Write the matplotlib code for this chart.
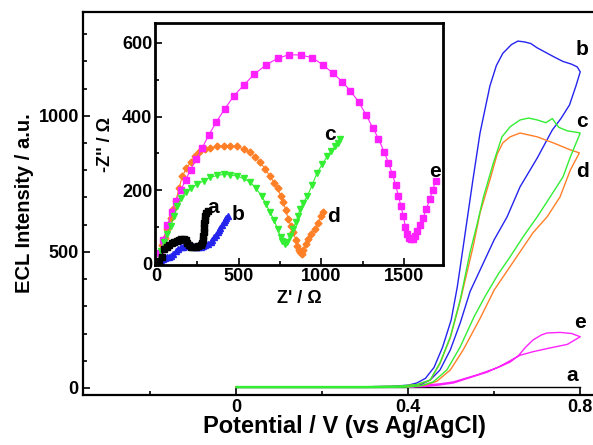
import matplotlib
matplotlib.use("Agg")
import matplotlib.pyplot as plt
from matplotlib.ticker import MultipleLocator

plt.rcParams["font.family"] = ["Liberation Sans", "DejaVu Sans"]
plt.rcParams["font.weight"] = "bold"

# ECL vs potential, main plot (two branches per curve: up and down scan)
pot_b_up = [0.00, 0.20, 0.30, 0.36, 0.40, 0.42, 0.44, 0.46, 0.48, 0.50, 0.514, 0.528, 0.55, 0.567,
            0.59, 0.605, 0.62, 0.64, 0.655, 0.67, 0.685, 0.70, 0.72, 0.74, 0.76, 0.78, 0.793, 0.80]
ecl_b_up = [3, 3, 4, 6, 10, 18, 35, 75, 150, 250, 370, 520, 760, 937,
            1110, 1185, 1230, 1262, 1275, 1272, 1266, 1250, 1233, 1216, 1200, 1190, 1180, 1162]
pot_b_dn = [0.80, 0.79, 0.775, 0.755, 0.735, 0.70, 0.66, 0.63, 0.60, 0.575, 0.544, 0.521, 0.498,
            0.474, 0.451, 0.428, 0.40, 0.30, 0.00]
ecl_b_dn = [1162, 1110, 1040, 990, 948, 845, 739, 629, 545, 460, 355, 239, 140,
            66, 29, 11, 5, 3, 3]

pot_c_up = [0.00, 0.20, 0.30, 0.38, 0.42, 0.451, 0.474, 0.498, 0.521, 0.544, 0.56, 0.575, 0.598,
            0.618, 0.637, 0.66, 0.68, 0.70, 0.72, 0.735, 0.75, 0.77, 0.79, 0.80]
ecl_c_up = [5, 5, 5, 7, 12, 29, 92, 188, 324, 500, 600, 702, 827,
            923, 960, 985, 992, 985, 975, 990, 958, 945, 940, 937]
pot_c_dn = [0.80, 0.777, 0.76, 0.73, 0.70, 0.667, 0.637, 0.61, 0.58, 0.553, 0.521, 0.49, 0.458,
            0.43, 0.40, 0.30, 0.00]
ecl_c_dn = [937, 849, 776, 702, 629, 555, 482, 420, 340, 261, 151, 66, 22,
            8, 3, 1, 1]

pot_d_up = [0.00, 0.20, 0.30, 0.38, 0.42, 0.451, 0.474, 0.498, 0.521, 0.551, 0.567, 0.59, 0.607,
            0.62, 0.637, 0.66, 0.68, 0.70, 0.737, 0.777, 0.798]
ecl_d_up = [3, 3, 4, 6, 12, 28, 90, 185, 320, 520, 643, 765, 860,
            901, 923, 937, 930, 923, 901, 875, 864]
pot_d_dn = [0.798, 0.777, 0.753, 0.723, 0.69, 0.66, 0.63, 0.60, 0.567, 0.528, 0.498, 0.467, 0.44,
            0.40, 0.30, 0.00]
ecl_d_dn = [864, 801, 702, 629, 570, 500, 430, 360, 255, 140, 66, 25, 10,
            5, 3, 3]

pot_e_up = [0.40, 0.444, 0.474, 0.505, 0.56, 0.607, 0.637, 0.656, 0.672, 0.69, 0.71, 0.723,
            0.753, 0.78, 0.80]
ecl_e_up = [3, 11, 15, 22, 48, 74, 95, 118, 148, 176, 195, 202, 204, 200, 188]
pot_e_dn = [0.80, 0.77, 0.73, 0.69, 0.66, 0.637, 0.614, 0.584, 0.544, 0.505, 0.474, 0.44, 0.40]
ecl_e_dn = [188, 160, 147, 133, 120, 100, 80, 58, 38, 18, 11, 5, 3]

pot_a = [0.00, 0.40, 0.80]
ecl_a = [3, 3, 3]

pot_ticks = [0, 0.4, 0.8]
pot_tick_labels = ["0", "0.4", "0.8"]
ecl_ticks = [0, 500, 1000]

# Nyquist plot, inset
z_re_a = [0, 10, 20, 35, 48, 65, 80, 95, 108, 125, 140, 155, 169, 180, 190, 200, 211, 225, 240,
          255, 271, 278, 282, 286, 289, 291, 292, 296, 300, 306, 313]
z_im_a = [0, 4, 8, 20, 40, 46, 52, 57, 60, 63, 66, 68, 68, 64, 58, 52, 46, 45, 46,
          48, 50, 56, 65, 76, 86, 98, 110, 120, 130, 137, 143]

z_re_b = [0, 10, 20, 32, 45, 58, 70, 80, 90, 105, 120, 135, 150, 165, 180, 195, 211, 225, 240,
          255, 271, 285, 300, 315, 331, 340, 350, 362, 373, 382, 390, 400, 410, 418, 425, 433]
z_im_b = [0, 3, 5, 8, 12, 15, 18, 20, 22, 28, 35, 41, 46, 47, 48, 49, 49, 48, 47,
          46, 46, 48, 50, 54, 60, 65, 72, 79, 86, 92, 98, 105, 113, 119, 124, 130]

z_re_c = [10, 30, 50, 70, 90, 110, 130, 155, 180, 215, 250, 290, 330, 370, 410, 450, 490, 530,
          570, 605, 640, 665, 690, 715, 735, 755, 765, 780, 795, 810, 830, 845, 860, 870, 890,
          915, 945, 975, 1005, 1035, 1060, 1085, 1100, 1115]
z_im_c = [5, 35, 60, 82, 103, 130, 157, 178, 195, 207, 216, 226, 235, 240, 243, 242, 238, 232,
          222, 205, 184, 163, 140, 118, 95, 72, 62, 54, 60, 76, 95, 113, 130, 149, 165,
          184, 215, 248, 270, 292, 306, 319, 328, 338]

z_re_d = [10, 25, 40, 55, 70, 90, 105, 120, 140, 160, 185, 210, 235, 260, 295, 330, 370, 410,
          450, 490, 530, 570, 600, 630, 660, 690, 715, 735, 755, 770, 785, 800, 815, 830, 845,
          855, 865, 872, 880, 890, 905, 920, 940, 960, 980, 1000, 1010]
z_im_d = [5, 28, 50, 70, 95, 125, 150, 170, 205, 238, 260, 276, 292, 303, 311, 316, 319, 320,
          320, 319, 312, 303, 290, 276, 258, 238, 220, 205, 185, 168, 145, 122, 104, 86, 66,
          49, 38, 32, 28, 38, 55, 68, 82, 95, 112, 130, 140]

z_re_e = [10, 25, 45, 70, 95, 120, 150, 180, 210, 245, 280, 320, 365, 415, 470, 530, 595, 665,
          735, 805, 875, 945, 1010, 1070, 1125, 1175, 1225, 1270, 1310, 1345, 1378, 1405, 1428,
          1448, 1465, 1480, 1495, 1508, 1520, 1530, 1540, 1552, 1565, 1580, 1597, 1615, 1635,
          1655, 1672, 1690]
z_im_e = [5, 30, 65, 105, 140, 170, 200, 228, 256, 285, 315, 350, 385, 420, 455, 485, 515, 540,
          558, 568, 567, 560, 540, 518, 495, 470, 440, 405, 370, 340, 305, 275, 245,
          215, 185, 158, 130, 100, 80, 70, 67, 68, 75, 88, 105, 125, 150,
          175, 200, 225]

z_re_ticks = [0, 500, 1000, 1500]
z_im_ticks = [0, 200, 400, 600]

c_blue = "#2424ee"
c_green = "#33ee33"
c_orange = "#ff7f27"
c_mag = "#ff22ff"

fig = plt.figure(figsize=(5.93, 4.45), dpi=100)

ax = fig.add_axes([0.14, 0.1124, 0.882, 0.8607])
ax.plot(pot_a, ecl_a, color="black", lw=1.0)
ax.plot(pot_e_up + pot_e_dn, ecl_e_up + ecl_e_dn, color=c_mag, lw=1.0)
ax.plot(pot_b_up + pot_b_dn, ecl_b_up + ecl_b_dn, color=c_blue, lw=1.0)
ax.plot(pot_d_up + pot_d_dn, ecl_d_up + ecl_d_dn, color=c_orange, lw=1.0)
ax.plot(pot_c_up + pot_c_dn, ecl_c_up + ecl_c_dn, color=c_green, lw=1.0)

ax.set_xlim(-0.356, 0.86)
ax.set_ylim(-26, 1382)
ax.set_xticks(pot_ticks, pot_tick_labels, fontweight="bold", fontsize=13)
ax.xaxis.set_minor_locator(MultipleLocator(0.2))
ax.set_yticks(ecl_ticks, [str(v) for v in ecl_ticks], fontweight="bold", fontsize=13)
ax.yaxis.set_minor_locator(MultipleLocator(100))
ax.tick_params(which="both", direction="in", width=1.2, pad=3)
ax.tick_params(which="major", length=5)
ax.tick_params(which="minor", length=3)
for s in ax.spines.values():
    s.set_linewidth(1.6)
ax.set_xlabel("Potential / V (vs Ag/AgCl)", fontsize=17, fontweight="bold", labelpad=-1)
ax.set_ylabel("ECL Intensity / a.u.", fontsize=14.5, fontweight="bold", labelpad=3)

for txt, x, y in [("b", 0.805, 1243), ("c", 0.805, 978), ("d", 0.805, 795),
                  ("e", 0.80, 239), ("a", 0.781, 45)]:
    ax.text(x, y, txt, fontsize=15, fontweight="bold", ha="center", va="center")

ins = fig.add_axes([0.2614, 0.4045, 0.4857, 0.5438])
ms = 4
ins.plot(z_re_d, z_im_d, color=c_orange, lw=0.8, marker="D", ms=ms - 0.5)
ins.plot(z_re_e, z_im_e, color=c_mag, lw=0.8, marker="s", ms=ms)
ins.plot(z_re_c, z_im_c, color=c_green, lw=0.8, marker="v", ms=ms + 0.5)
ins.plot(z_re_b, z_im_b, color=c_blue, lw=0.8, marker="^", ms=ms + 0.5)
ins.plot(z_re_a, z_im_a, color="black", lw=0.8, marker="s", ms=ms)

ins.set_xlim(-5, 1735)
ins.set_ylim(-3, 654)
ins.set_xticks(z_re_ticks, [str(v) for v in z_re_ticks], fontweight="bold", fontsize=13)
ins.xaxis.set_minor_locator(MultipleLocator(250))
ins.set_yticks(z_im_ticks, [str(v) for v in z_im_ticks], fontweight="bold", fontsize=13)
ins.yaxis.set_minor_locator(MultipleLocator(100))
ins.tick_params(which="both", direction="in", width=1.2, pad=2)
ins.tick_params(which="major", length=5)
ins.tick_params(which="minor", length=3)
for s in ins.spines.values():
    s.set_linewidth(2.0)
ins.set_xlabel("Z' / \u03a9", fontsize=13, fontweight="bold", labelpad=4)
ins.set_ylabel("-Z'' / \u03a9", fontsize=13, fontweight="bold", labelpad=6)

for txt, x, y in [("a", 349, 154), ("b", 494, 135), ("c", 1054, 351),
                  ("d", 1072, 130), ("e", 1687, 251)]:
    ins.text(x, y, txt, fontsize=15, fontweight="bold", ha="center", va="center")

fig.savefig("out.png", dpi=100)
